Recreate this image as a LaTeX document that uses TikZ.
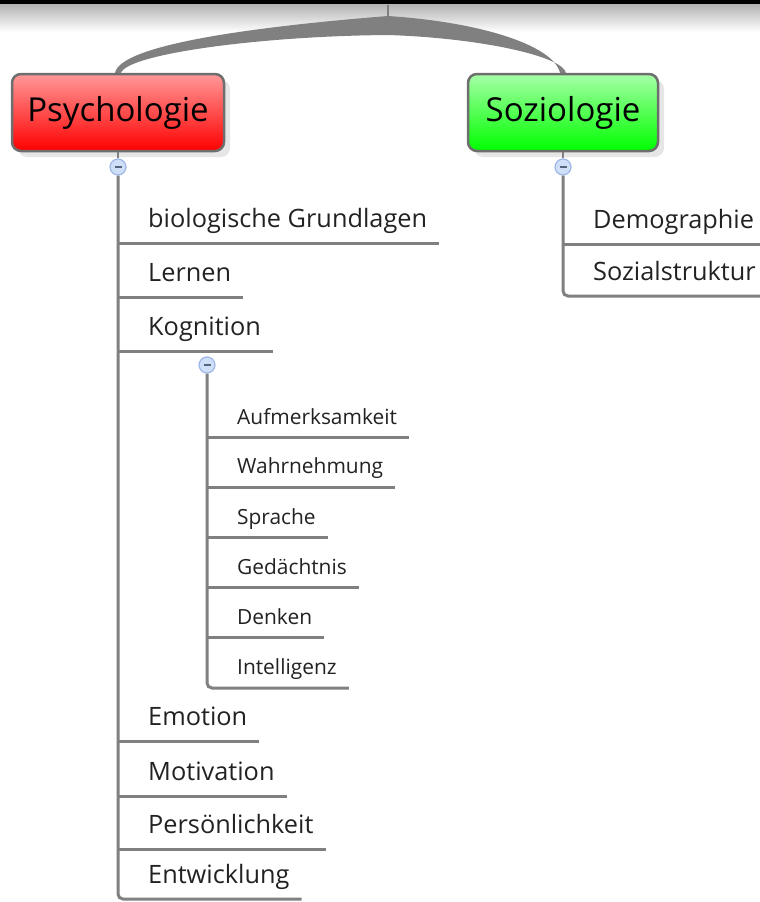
\documentclass[tikz,border=0pt]{standalone}
\usepackage{fontspec}
\setmainfont{Open Sans}
\usetikzlibrary{shadows}
\definecolor{twiggray}{HTML}{808080}
\definecolor{boxgray}{HTML}{6E6E6E}
\definecolor{togglefill}{HTML}{CFDFF8}
\definecolor{toggleline}{HTML}{9DB7E6}
\definecolor{textgray}{HTML}{222222}
\tikzset{
  twig/.style={draw=twiggray, line width=3pt},
  topic/.style={draw=boxgray, line width=2.5pt, rounded corners=9pt, minimum height=77pt,
    font=\fontsize{33}{39}\selectfont,
    drop shadow={shadow xshift=6pt, shadow yshift=-6pt, opacity=0.2}},
  item/.style={anchor=south west, inner xsep=12pt, inner ysep=0pt, text depth=15pt,
    text=textgray, font=\fontsize{25.3}{30}\selectfont},
  subitem/.style={item, text depth=13pt, font=\fontsize{20.9}{25}\selectfont},
  toggle/.style={circle, draw=toggleline, fill=togglefill, line width=1.2pt, minimum size=16pt, inner sep=0pt,
    path picture={\draw[toggleline!55!black, line width=1.2pt]
      ([xshift=-3.5pt]path picture bounding box.center) -- ([xshift=3.5pt]path picture bounding box.center);}}
}

\begin{document}
\begin{tikzpicture}[x=1pt, y=-1pt]
\useasboundingbox (0,0) rectangle (760,902);
% window edge
\fill[black] (0,0) rectangle (760,4);
\shade[top color=black!30, bottom color=white] (0,4) rectangle (760,32);

\node[topic, top color=red!40, bottom color=red, minimum width=212pt] (psy) at (118,112.5) {Psychologie};
\node[topic, top color=green!35, bottom color=green, minimum width=190pt] (soz) at (563,112.5) {Soziologie};

\coordinate (root) at (388,5);
\coordinate (hub) at (388,16);
\coordinate (hubb) at (388,35);
\draw[twiggray, line width=2pt] (root) -- (hub);
\fill[twiggray] (hub) .. controls (250,27) and (121,45) .. ([xshift=-3pt]psy.north)
  -- ([xshift=3pt]psy.north) .. controls (128,54) and (260,36) .. (hubb)
  .. controls (480,38) and (562,56) .. ([xshift=3pt]soz.north)
  -- ([xshift=-3pt]soz.north) .. controls (553,45) and (480,22) .. cycle;

\node[toggle] (psytog) at (118,167) {};
\node[toggle] (soztog) at (563,167) {};
\draw[twig, line width=2pt] (psy.south) -- (psytog);
\draw[twig, line width=2pt] (soz.south) -- (soztog);

% Psychologie
\node[item] (bio) at (136,243) {biologische Grundlagen};
\node[item] (lern) at (136,297) {Lernen};
\node[item] (kog) at (136,351) {Kognition};
\node[item] (emo) at (136,741) {Emotion};
\node[item] (moti) at (136,796) {Motivation};
\node[item] (pers) at (136,849) {Persönlichkeit};
\node[item] (entw) at (136,899) {Entwicklung};
\foreach \n in {bio,lern,kog,emo,moti,pers}
  \draw[twig] (psytog |- \n.south) -- (\n.south east);
\draw[twig, rounded corners=5pt] (psytog.south) |- (entw.south east);

% Kognition
\node[toggle] (kogtog) at (207,365) {};
\node[subitem] (aufm) at (225,437.5) {Aufmerksamkeit};
\node[subitem] (wahr) at (225,487) {Wahrnehmung};
\node[subitem] (spr) at (225,537.5) {Sprache};
\node[subitem] (gedae) at (225,587.5) {Gedächtnis};
\node[subitem] (denk) at (225,637.5) {Denken};
\node[subitem] (intel) at (225,688) {Intelligenz};
\foreach \n in {aufm,wahr,spr,gedae,denk}
  \draw[twig] (kogtog |- \n.south) -- (\n.south east);
\draw[twig, rounded corners=5pt] (kogtog.south) |- (intel.south east);

% Soziologie
\node[item] (demo) at (581,244) {Demographie};
\node[item] (sozs) at (581,296) {Sozialstruktur};
\draw[twig] (soztog |- demo.south) -- (demo.south east);
\draw[twig, rounded corners=5pt] (soztog.south) |- (sozs.south east);
\end{tikzpicture}
\end{document}
